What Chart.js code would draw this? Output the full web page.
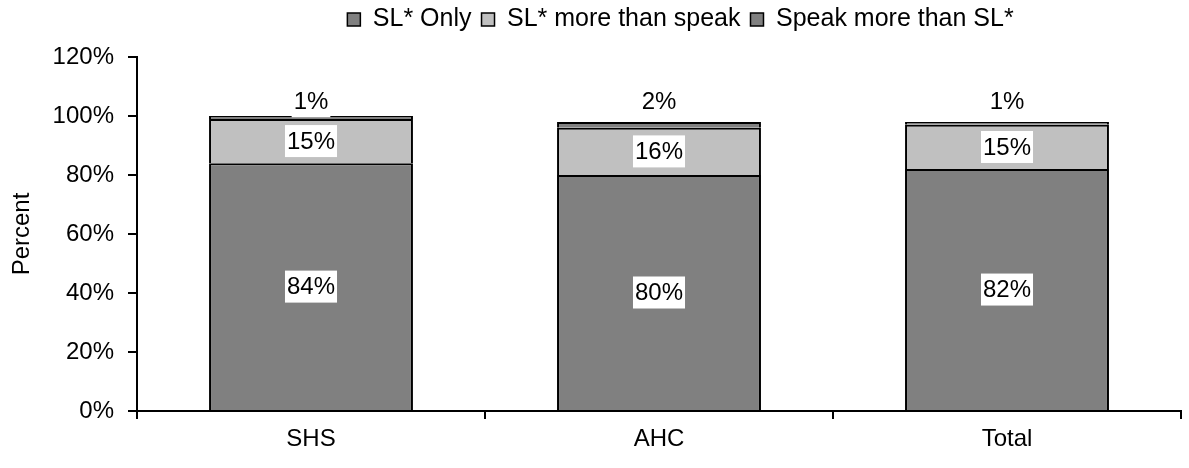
<!DOCTYPE html>
<html>
<head>
<meta charset="utf-8">
<script src="https://cdn.jsdelivr.net/npm/chart.js@4/dist/chart.umd.min.js"></script>
<style>
  html, body { margin: 0; padding: 0; background: #fff; }
  #wrap { width: 1189px; height: 468px; }
</style>
</head>
<body>
<div id="wrap"><canvas id="bar-chart" width="1189" height="468"></canvas></div>
<script>
var categories = ["SHS", "AHC", "Total"];
var slOnly = [84, 80, 82];
var slMoreThanSpeak = [15, 16, 15];
var speakMoreThanSl = [1, 2, 1];

Chart.defaults.font.family = '"Liberation Sans", Arial, sans-serif';
Chart.defaults.font.size = 24;
Chart.defaults.color = "#000";

// value labels with white boxes, top series sits above the bar
var valueLabels = {
  id: "valueLabels",
  afterDatasetsDraw: function (chart) {
    var ctx = chart.ctx;
    var yScale = chart.scales.y;
    ctx.save();
    ctx.font = '24px "Liberation Sans", Arial, sans-serif';
    ctx.textAlign = "center";
    ctx.textBaseline = "middle";
    chart.data.datasets.forEach(function (ds, i) {
      var meta = chart.getDatasetMeta(i);
      meta.data.forEach(function (bar, j) {
        var text = ds.data[j] + "%";
        var cy = (bar.y + bar.base) / 2;
        if (i === 2) {
          cy = yScale.getPixelForValue(105);
        }
        var w = ctx.measureText(text).width + 4;
        ctx.fillStyle = "#fff";
        ctx.fillRect(bar.x - w / 2, cy - 16, w, 32);
        ctx.fillStyle = "#000";
        ctx.fillText(text, bar.x, cy + 1);
      });
    });
    ctx.restore();
  },
};

// nudge legend to where it sits in the original
var legendShift = {
  id: "legendShift",
  afterLayout: function (chart) {
    var lg = chart.legend;
    var dx = 90;
    var dy = -15;
    lg.left += dx;
    lg.right += dx;
    lg.top += dy;
    lg.bottom += dy;
  },
};

var segBorder = { left: 2, right: 2, top: 2, bottom: 0 };

var config = {
  type: "bar",
  data: {
    labels: categories,
    datasets: [
      {
        label: "SL* Only",
        data: slOnly,
        backgroundColor: "#808080",
        borderColor: "#000",
        borderWidth: segBorder,
        borderSkipped: false,
      },
      {
        label: "SL* more than speak",
        data: slMoreThanSpeak,
        backgroundColor: "#c0c0c0",
        borderColor: "#000",
        borderWidth: segBorder,
        borderSkipped: false,
      },
      {
        label: "Speak more than SL*",
        data: speakMoreThanSl,
        backgroundColor: "#808080",
        borderColor: "#000",
        borderWidth: segBorder,
        borderSkipped: false,
      },
    ],
  },
  options: {
    responsive: false,
    animation: false,
    layout: {
      padding: { top: 12, right: 8, left: 0, bottom: 0 },
    },
    datasets: {
      bar: {
        categoryPercentage: 1,
        barPercentage: 0.586,
      },
    },
    plugins: {
      legend: {
        display: true,
        position: "top",
        labels: {
          boxWidth: 13,
          boxHeight: 13,
          padding: 10,
          color: "#000",
          font: { size: 25 },
        },
      },
      tooltip: { enabled: false },
    },
    scales: {
      x: {
        stacked: true,
        grid: {
          display: true,
          drawOnChartArea: false,
          color: "#000",
          lineWidth: 2,
          tickLength: 8,
        },
        border: { color: "#000", width: 2 },
        ticks: { padding: 6 },
        afterFit: function (scale) {
          scale.height = 57;
        },
      },
      y: {
        stacked: true,
        min: 0,
        max: 120,
        ticks: {
          stepSize: 20,
          padding: 14,
          callback: function (v) {
            return v + "%";
          },
        },
        grid: {
          display: true,
          drawOnChartArea: false,
          color: "#000",
          lineWidth: 2,
          tickLength: 9,
        },
        border: { color: "#000", width: 2 },
        title: {
          display: true,
          text: "Percent",
          padding: { top: 8, bottom: 0 },
        },
        afterFit: function (scale) {
          scale.width = 137;
        },
      },
    },
  },
  plugins: [valueLabels, legendShift],
};

var ctxOne = document.getElementById("bar-chart").getContext("2d");
new Chart(ctxOne, config);
</script>
</body>
</html>
